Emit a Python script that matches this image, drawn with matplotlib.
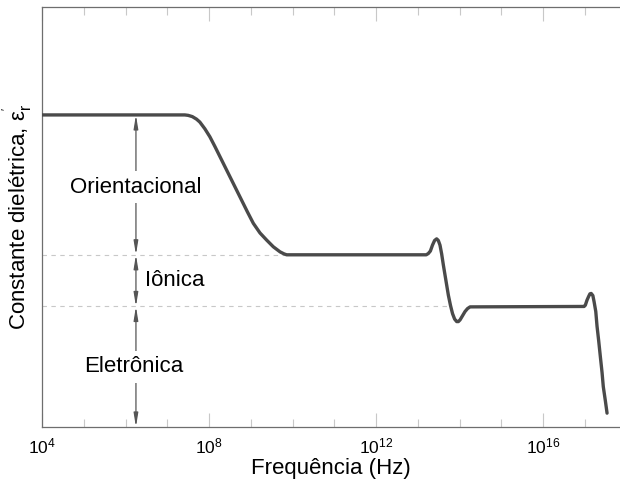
import numpy as np
import matplotlib.pyplot as plt
from matplotlib.ticker import FixedLocator, NullFormatter

plt.rcParams['font.family'] = ['Liberation Sans', 'DejaVu Sans']
plt.rcParams['mathtext.fontset'] = 'custom'
plt.rcParams['mathtext.rm'] = 'Liberation Sans'
plt.rcParams['mathtext.it'] = 'Liberation Sans:italic'

# curve: log10(frequency) and permittivity (arbitrary units)
log_f = [4.0, 7.42, 7.50, 7.60, 7.70, 7.78, 7.90, 8.02, 8.14, 8.26, 8.40, 8.54,
         8.66, 8.78, 8.92, 9.06, 9.22, 9.38, 9.54, 9.70, 9.80, 9.86,
         13.20, 13.25, 13.30, 13.35, 13.40, 13.45, 13.49, 13.53, 13.57, 13.61,
         13.67, 13.73, 13.78, 13.83, 13.88, 13.93, 13.97, 14.01, 14.07, 14.13,
         14.19, 14.25,
         16.98, 17.01, 17.05, 17.09, 17.12, 17.15, 17.19, 17.22, 17.26, 17.29,
         17.33, 17.37, 17.41, 17.44, 17.49, 17.53]
eps = [7.43, 7.43, 7.42, 7.39, 7.33, 7.26, 7.10, 6.91, 6.68, 6.44, 6.16, 5.88,
       5.64, 5.40, 5.12, 4.85, 4.62, 4.45, 4.29, 4.17, 4.12, 4.10,
       4.10, 4.13, 4.19, 4.33, 4.44, 4.48, 4.44, 4.33, 4.12, 3.86,
       3.50, 3.14, 2.90, 2.70, 2.57, 2.51, 2.51, 2.55, 2.65, 2.75,
       2.82, 2.86,
       2.87, 2.90, 3.02, 3.11, 3.17, 3.18, 3.13, 2.98, 2.75, 2.40,
       2.05, 1.67, 1.30, 0.96, 0.62, 0.33]

# levels of the three contributions
lvl_orient = 7.43
lvl_ion = 4.10
lvl_elec = 2.87
x_arrow = 10**6.25

fig = plt.figure(figsize=(6.2, 4.82), dpi=100)
ax = fig.add_axes([0.0677, 0.1141, 0.9323, 0.8714])

f = 10**np.array(log_f)
ax.plot(f, eps, color='#4a4a4a', lw=2.4, solid_capstyle='round', zorder=4)

# dashed guide lines
ax.plot([1e4, 10**9.85], [lvl_ion, lvl_ion], ls=(0, (4, 4)), color='#c8c8c8', lw=0.8, zorder=1)
ax.plot([1e4, 10**13.77], [lvl_elec, lvl_elec], ls=(0, (4, 4)), color='#c8c8c8', lw=0.8, zorder=1)

# double arrows
arrow = dict(arrowstyle='<|-|>,head_length=0.8,head_width=0.13', color='#555555',
             lw=0.9, shrinkA=0, shrinkB=0)
ax.annotate('', xy=(x_arrow, lvl_orient), xytext=(x_arrow, lvl_ion), arrowprops=arrow, zorder=2)
ax.annotate('', xy=(x_arrow, lvl_ion), xytext=(x_arrow, lvl_elec), arrowprops=arrow, zorder=2)
ax.annotate('', xy=(x_arrow, lvl_elec), xytext=(x_arrow, 0), arrowprops=arrow, zorder=2)

wb = dict(facecolor='white', edgecolor='none', pad=4)
ax.text(x_arrow, 5.71, 'Orientacional', ha='center', va='center', fontsize=16, bbox=wb, zorder=3)
ax.text(10**6.46, 3.49, 'Iônica', ha='left', va='center', fontsize=16, zorder=3)
ax.text(x_arrow * 0.9, 1.43, 'Eletrônica', ha='center', va='center', fontsize=16, bbox=wb, zorder=3)

ax.set_xscale('log')
ax.set_xlim(1e4, 10**17.84)
ax.set_ylim(0, 10)

ax.xaxis.set_major_locator(FixedLocator([1e4, 1e8, 1e12, 1e16]))
ax.xaxis.set_minor_locator(FixedLocator([10.0**k for k in range(5, 18)]))
ax.xaxis.set_minor_formatter(NullFormatter())
ax.set_yticks([])
ax.tick_params(axis='x', which='major', direction='in', length=10, width=0.8,
               color='#c8c8c8', top=True, labelsize=12.5, pad=7)
ax.tick_params(axis='x', which='minor', direction='in', length=6, width=0.8,
               color='#c8c8c8', top=True)

for s in ['left', 'bottom', 'top']:
    ax.spines[s].set_color('#6e6e6e')
    ax.spines[s].set_linewidth(0.9)
ax.spines['right'].set_visible(False)

ax.set_xlabel('Frequência (Hz)', fontsize=16, labelpad=1)
ax.set_ylabel("Constante dielétrica, $\\mathrm{ε}_\\mathrm{r}^{'}$", fontsize=16, labelpad=6)

fig.savefig('out.png', dpi=100)
